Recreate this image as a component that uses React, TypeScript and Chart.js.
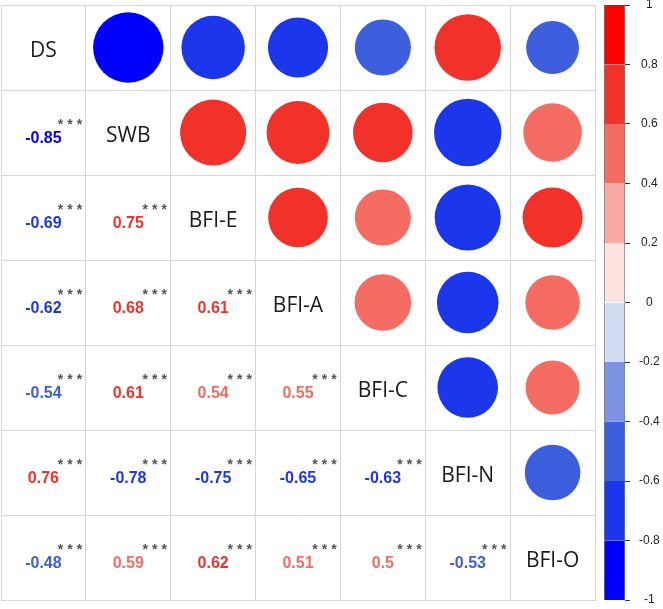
import React, { useEffect, useRef } from 'react';
import { Chart, registerables } from 'chart.js';

Chart.register(...registerables);

// ---- data ----
const variables = ['DS', 'SWB', 'BFI-E', 'BFI-A', 'BFI-C', 'BFI-N', 'BFI-O'];
const rowDS = [1, -0.85, -0.69, -0.62, -0.54, 0.76, -0.48];
const rowSWB = [-0.85, 1, 0.75, 0.68, 0.61, -0.78, 0.59];
const rowBFIE = [-0.69, 0.75, 1, 0.61, 0.54, -0.75, 0.62];
const rowBFIA = [-0.62, 0.68, 0.61, 1, 0.55, -0.65, 0.51];
const rowBFIC = [-0.54, 0.61, 0.54, 0.55, 1, -0.63, 0.5];
const rowBFIN = [0.76, -0.78, -0.75, -0.65, -0.63, 1, -0.53];
const rowBFIO = [-0.48, 0.59, 0.62, 0.51, 0.5, -0.53, 1];
const corrRows = [rowDS, rowSWB, rowBFIE, rowBFIA, rowBFIC, rowBFIN, rowBFIO];
const sigLabel = '***';

const legendBreaks = [-1, -0.8, -0.6, -0.4, -0.2, 0, 0.2, 0.4, 0.6, 0.8, 1];
const legendColors = [
  '#0000FF', '#1C36EC', '#3D5FDE', '#7E93E3', '#D4DCF3',
  '#FDE3DF', '#F8A8A2', '#F56C62', '#F0322A', '#FF0000',
];
const gridTicks = [-0.5, 0.5, 1.5, 2.5, 3.5, 4.5, 5.5, 6.5];

function colorFor(v: number): string {
  let k = Math.floor((v - legendBreaks[0]) / 0.2);
  if (k < 0) k = 0;
  if (k > legendColors.length - 1) k = legendColors.length - 1;
  return legendColors[k];
}

function pointOf(c: any): any {
  if (c && c.raw) return c.raw;
  if (c && c.dataset && c.dataIndex != null) return c.dataset.data[c.dataIndex];
  return null;
}

const textPlugin = {
  id: 'corrText',
  afterDatasetsDraw(chart: any) {
    const { ctx, scales } = chart;
    const x = scales.x;
    const y = scales.y;
    ctx.save();
    ctx.textAlign = 'center';
    ctx.textBaseline = 'alphabetic';
    ctx.fillStyle = '#1a1a1a';
    ctx.font = '21px "Open Sans", "DejaVu Sans", sans-serif';
    variables.forEach((name, i) => {
      const cx = x.getPixelForValue(i);
      const cy = y.getPixelForValue(i);
      ctx.fillText(name, cx, cy + 9);
    });
    corrRows.forEach((row, i) => {
      row.forEach((v, j) => {
        if (j >= i) return;
        const cx = x.getPixelForValue(j);
        const cy = y.getPixelForValue(i);
        ctx.textAlign = 'center';
        ctx.fillStyle = colorFor(v);
        ctx.font = 'bold 16px "Liberation Sans", Arial, sans-serif';
        ctx.fillText(String(v), cx, cy + 10);
        ctx.fillStyle = '#555555';
        ctx.font = 'bold 14px "Liberation Sans", Arial, sans-serif';
        const offs = [17, 26.5, 36];
        sigLabel.split('').forEach((s, k) => {
          ctx.fillText(s, cx + offs[k], cy - 4);
        });
      });
    });
    ctx.restore();
  },
};

export default function App() {
  const mainRef = useRef<HTMLCanvasElement>(null);
  const barRef = useRef<HTMLCanvasElement>(null);

  useEffect(() => {
    const upperPoints: any[] = [];
    corrRows.forEach((row, i) =>
      row.forEach((v, j) => {
        if (j > i) upperPoints.push({ x: j, y: i, v });
      })
    );

    const axisCommon = {
      type: 'linear' as const,
      min: -0.5,
      max: 6.5,
      afterBuildTicks: (s: any) => {
        s.ticks = gridTicks.map((v) => ({ value: v }));
      },
      ticks: { display: false },
      grid: { color: '#d6d6d6', lineWidth: 1, drawTicks: false },
      border: { color: '#d6d6d6' },
    };

    const main = new Chart(mainRef.current!, {
      type: 'scatter',
      data: {
        datasets: [
          {
            data: upperPoints,
            showLine: false,
            pointBackgroundColor: (c: any) => {
              const p = pointOf(c);
              return p ? colorFor(p.v) : 'rgba(0,0,0,0)';
            },
            pointBorderWidth: 0,
            pointBorderColor: 'rgba(0,0,0,0)',
            pointRadius: (c: any) => {
              const p = pointOf(c);
              if (!p) return 0;
              const sx = c.chart.scales.x;
              const cell = Math.abs(sx.getPixelForValue(1) - sx.getPixelForValue(0));
              return (cell / 2) * 0.9 * Math.sqrt(Math.abs(p.v));
            },
            pointHoverRadius: (c: any) => {
              const p = pointOf(c);
              if (!p) return 0;
              const sx = c.chart.scales.x;
              const cell = Math.abs(sx.getPixelForValue(1) - sx.getPixelForValue(0));
              return (cell / 2) * 0.9 * Math.sqrt(Math.abs(p.v));
            },
          } as any,
        ],
      },
      options: {
        responsive: false,
        animation: false,
        events: [],
        layout: { padding: { left: 1, top: 5, right: 5, bottom: 9 } },
        plugins: { legend: { display: false }, tooltip: { enabled: false } },
        scales: {
          x: { ...axisCommon },
          y: { ...axisCommon, reverse: true },
        } as any,
      },
      plugins: [textPlugin],
    });

    const bar = new Chart(barRef.current!, {
      type: 'bar',
      data: {
        labels: [''],
        datasets: legendColors.map((c, k) => ({
          data: [[legendBreaks[k], legendBreaks[k + 1]]],
          backgroundColor: c,
          borderColor: '#7a7a7a',
          borderWidth: { left: 1, right: 1, top: 0, bottom: 0 },
          borderSkipped: false,
          grouped: false,
          categoryPercentage: 1,
          barPercentage: 1,
        })) as any,
      },
      options: {
        responsive: false,
        animation: false,
        events: [],
        layout: { padding: { left: 4, top: 5, right: 0, bottom: 9 } },
        plugins: { legend: { display: false }, tooltip: { enabled: false } },
        scales: {
          x: { display: false },
          y: {
            position: 'right',
            min: -1,
            max: 1,
            ticks: {
              stepSize: 0.2,
              crossAlign: 'center',
              padding: 9,
              color: '#222',
              font: { family: '"Liberation Sans", Arial, sans-serif', size: 12 },
              callback: (v: any) => String(Math.round(Number(v) * 10) / 10),
            },
            grid: { drawOnChartArea: false, drawTicks: true, tickLength: 5, color: '#333' },
            border: { display: false },
            afterFit: (s: any) => {
              s.width = 38;
              s.paddingTop = 0;
              s.paddingBottom = 0;
            },
          },
        } as any,
      },
    });

    return () => {
      main.destroy();
      bar.destroy();
    };
  }, []);

  return (
    <div style={{ position: 'fixed', left: 0, top: 0, width: 663, height: 609, background: '#fff' }}>
      <canvas
        ref={mainRef}
        width={600}
        height={609}
        style={{ position: 'absolute', left: 0, top: 0, width: 600, height: 609 }}
      />
      <canvas
        ref={barRef}
        width={63}
        height={609}
        style={{ position: 'absolute', left: 600, top: 0, width: 63, height: 609 }}
      />
    </div>
  );
}
